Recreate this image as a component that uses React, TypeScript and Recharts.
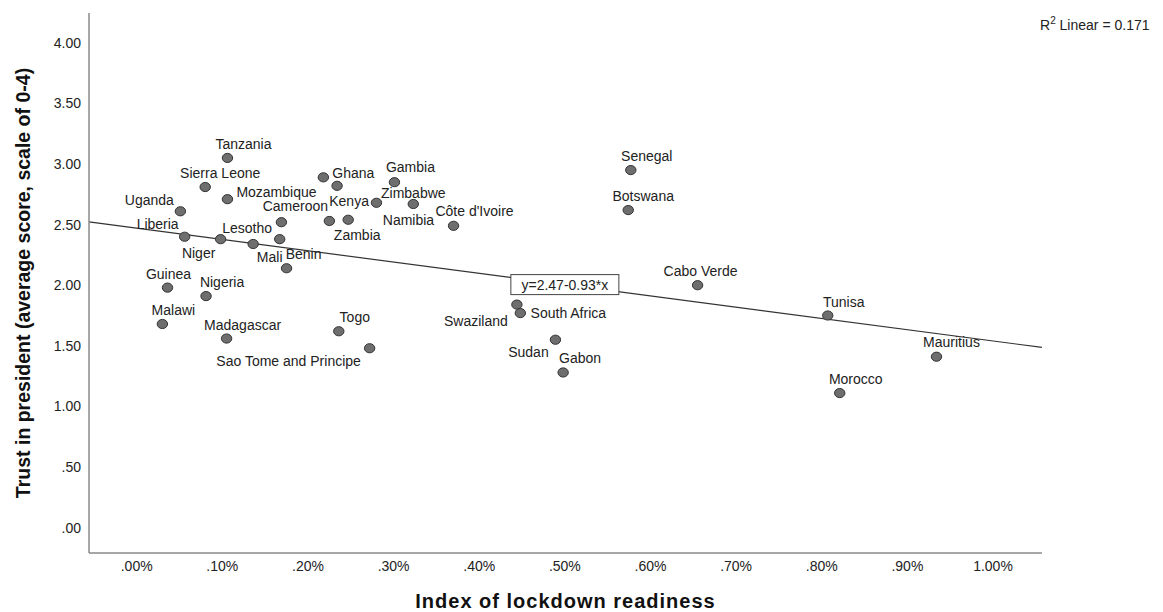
import React from 'react';
import { ScatterChart, Scatter, XAxis, YAxis, ReferenceLine, ReferenceDot, Label } from 'recharts';

const countries = [
  'Tanzania', 'Sierra Leone', 'Mozambique', 'Uganda', 'Cameroon', 'Liberia', 'Niger', 'Lesotho', 'Mali', 'Benin',
  'Guinea', 'Nigeria', 'Malawi', 'Madagascar', 'Togo', 'Sao Tome and Principe',
  'Ghana', 'Kenya', 'Gambia', 'Namibia', 'Zimbabwe', '', 'Zambia', "Côte d'Ivoire",
  'Swaziland', 'South Africa', 'Sudan', 'Gabon', 'Senegal', 'Botswana', 'Cabo Verde', 'Tunisa', 'Mauritius', 'Morocco',
];
const readiness = [
  0.106, 0.080, 0.106, 0.051, 0.169, 0.056, 0.098, 0.136, 0.167, 0.175,
  0.036, 0.081, 0.030, 0.105, 0.236, 0.272,
  0.218, 0.234, 0.301, 0.280, 0.323, 0.225, 0.247, 0.370,
  0.444, 0.448, 0.489, 0.498, 0.577, 0.574, 0.655, 0.807, 0.934, 0.821,
];
const trust = [
  3.05, 2.81, 2.71, 2.61, 2.52, 2.40, 2.38, 2.34, 2.38, 2.14,
  1.98, 1.91, 1.68, 1.56, 1.62, 1.48,
  2.89, 2.82, 2.85, 2.68, 2.67, 2.53, 2.54, 2.49,
  1.84, 1.77, 1.55, 1.28, 2.95, 2.62, 2.00, 1.75, 1.41, 1.11,
];
const xTicks = [0, 0.1, 0.2, 0.3, 0.4, 0.5, 0.6, 0.7, 0.8, 0.9, 1.0];
const yTicks = [0, 0.5, 1, 1.5, 2, 2.5, 3, 3.5, 4];
const intercept = 2.47;
const slope = -0.93;
const rSquared = '0.171';

const xDomain = [-0.0557, 1.0572];
const yDomain = [-0.2096, 4.246];

// label placement around each dot (dx, dy from the dot centre)
const labelOffset: Record<string, [number, number]> = {
  'Tanzania': [16, -14], 'Sierra Leone': [15, -14], 'Mozambique': [49, -7], 'Uganda': [-31, -11],
  'Cameroon': [14, -16], 'Liberia': [-27, -13], 'Niger': [-22, 14], 'Lesotho': [-6, -16],
  'Mali': [-10, 18], 'Benin': [17, -14], 'Guinea': [1, -14], 'Nigeria': [16, -14],
  'Malawi': [11, -14], 'Madagascar': [16, -14], 'Togo': [16, -14], 'Sao Tome and Principe': [-81, 13],
  'Ghana': [30, -4], 'Kenya': [12, 15], 'Gambia': [16, -15], 'Namibia': [32, 17],
  'Zimbabwe': [0, -11], 'Zambia': [9, 15], "Côte d'Ivoire": [21, -15],
  'Swaziland': [-41, 16], 'South Africa': [48, 0], 'Sudan': [-27, 12], 'Gabon': [17, -14],
  'Senegal': [16, -14], 'Botswana': [15, -14], 'Cabo Verde': [3, -14], 'Tunisa': [16, -14],
  'Mauritius': [15, -15], 'Morocco': [16, -14],
};

const data = countries.map((name, i) => ({ name, x: readiness[i], y: trust[i] }));

const FONT = '"Liberation Sans", Arial, sans-serif';

const fmtX = (v: number) => (v >= 1 ? v.toFixed(2) : v.toFixed(2).slice(1)) + '%';
const fmtY = (v: number) => (v >= 1 ? v.toFixed(2) : v.toFixed(2).slice(1));

const Dot = (props: any) => {
  const { cx, cy, payload } = props;
  const off = labelOffset[payload.name];
  return (
    <g>
      <ellipse cx={cx} cy={cy} rx={5.2} ry={4.6} fill="#6e6e6e" stroke="#333" strokeWidth={1} />
      {off && (
        <text x={cx + off[0]} y={cy + off[1]} textAnchor="middle" dominantBaseline="central"
          fontSize={14} fontFamily={FONT} fill="#222">{payload.name}</text>
      )}
    </g>
  );
};

const EqBox = (props: any) => {
  const { cx, cy } = props;
  return (
    <g>
      <rect x={cx - 54} y={cy - 10} width={108} height={20} fill="#fff" stroke="#444" strokeWidth={1} />
      <text x={cx} y={cy} textAnchor="middle" dominantBaseline="central" fontSize={14} fontFamily={FONT} fill="#222">
        {`y=${intercept.toFixed(2)}${slope.toFixed(2)}*x`}
      </text>
    </g>
  );
};

export default function App() {
  return (
    <div style={{ position: 'absolute', left: 0, top: 0, width: 1163, height: 612, background: '#fff', fontFamily: FONT }}>
      <ScatterChart width={1163} height={612} margin={{ top: 13, right: 121, bottom: 0, left: 0 }}>
        <XAxis type="number" dataKey="x" domain={xDomain} ticks={xTicks} tickFormatter={fmtX}
          allowDataOverflow height={59} tickLine={false} axisLine={{ stroke: '#8a8a8a', strokeWidth: 1.5 }}
          tick={{ fontSize: 14, fill: '#222', fontFamily: FONT }}>
          <Label content={(p: any) => {
            const vb = p.viewBox;
            return (
              <text x={vb.x + vb.width / 2} y={601} textAnchor="middle" dominantBaseline="central"
                fontSize={20} fontWeight="bold" letterSpacing={1} fontFamily={FONT} fill="#111">
                Index of lockdown readiness
              </text>
            );
          }} />
        </XAxis>
        <YAxis type="number" dataKey="y" domain={yDomain} ticks={yTicks} tickFormatter={fmtY}
          allowDataOverflow width={89} tickLine={false} axisLine={{ stroke: '#8a8a8a', strokeWidth: 1.5 }}
          tick={{ fontSize: 14, fill: '#222', fontFamily: FONT }}>
          <Label content={(p: any) => {
            const vb = p.viewBox;
            const cy = vb.y + vb.height / 2;
            return (
              <text x={23} y={cy} transform={`rotate(-90, 23, ${cy})`} textAnchor="middle" dominantBaseline="central"
                fontSize={19.5} fontWeight="bold" fontFamily={FONT} fill="#111">
                Trust in president (average score, scale of 0-4)
              </text>
            );
          }} />
        </YAxis>
        <ReferenceLine
          segment={[
            { x: xDomain[0], y: intercept + slope * xDomain[0] },
            { x: xDomain[1], y: intercept + slope * xDomain[1] },
          ]}
          stroke="#333" strokeWidth={1.2} ifOverflow="visible"
        />
        <Scatter data={data} shape={Dot} isAnimationActive={false} />
        <ReferenceDot x={0.5} y={intercept + slope * 0.5} shape={EqBox} ifOverflow="visible" />
      </ScatterChart>
      <div style={{ position: 'absolute', left: 1040, top: 16, fontSize: 14, color: '#222', lineHeight: '18px', whiteSpace: 'nowrap' }}>
        R<sup style={{ fontSize: 10, verticalAlign: 'top', lineHeight: '10px' }}>2</sup> Linear = {rSquared}
      </div>
    </div>
  );
}
